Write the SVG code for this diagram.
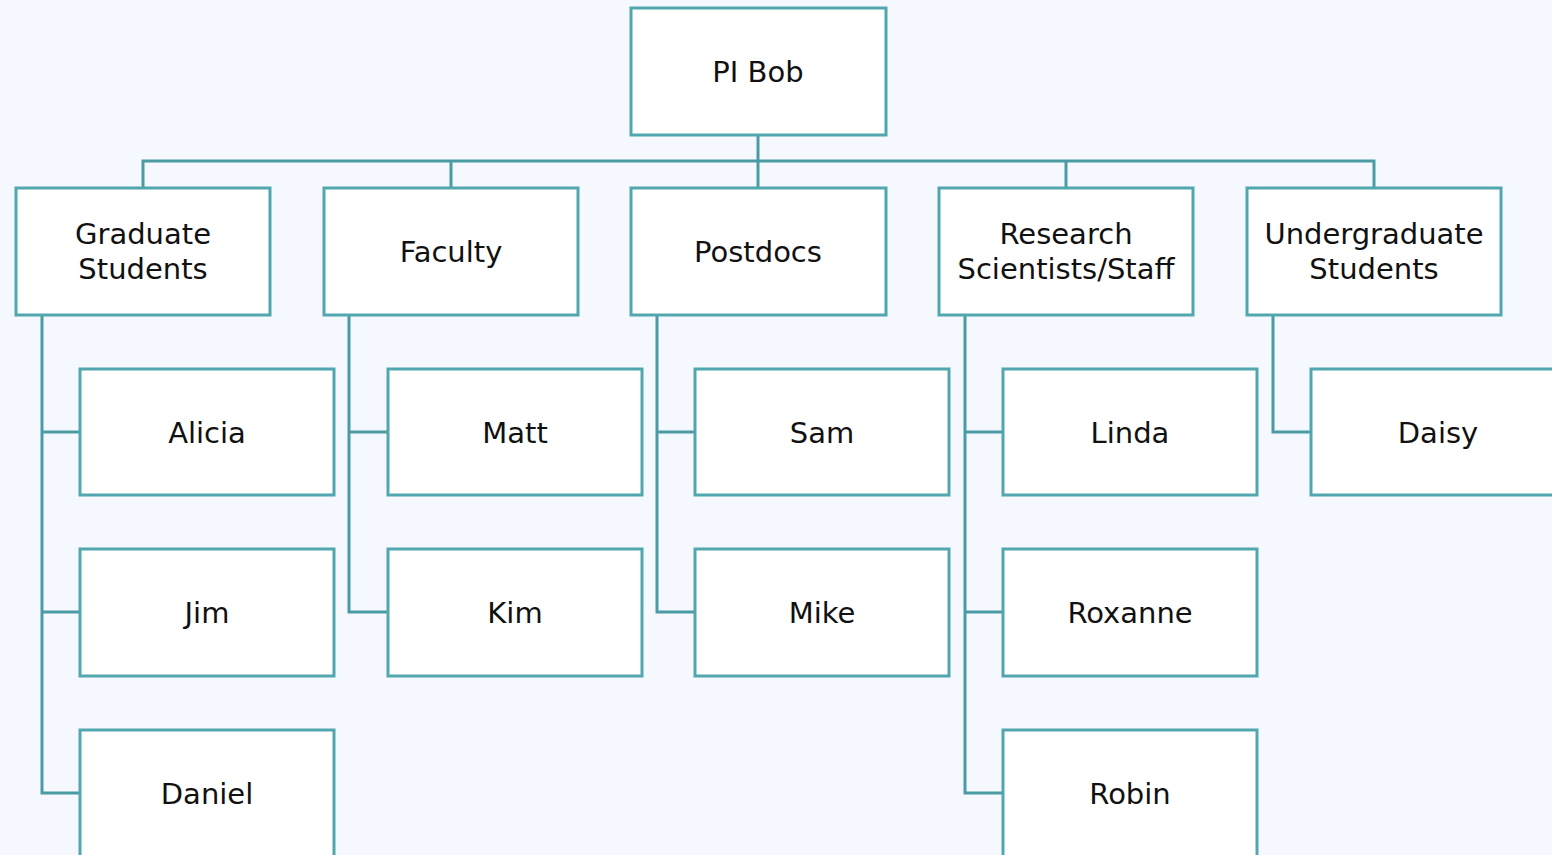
<svg xmlns="http://www.w3.org/2000/svg" width="1552" height="855" viewBox="0 0 1552 855">
<style>
.bx{fill:#ffffff;stroke:#52a6ae;stroke-width:3}
.cn{fill:none;stroke:#4a9ba3;stroke-width:3}
.t{font-family:"DejaVu Sans","Liberation Sans",sans-serif;font-size:29px;fill:#111111;text-anchor:middle}
</style>
<rect width="1552" height="855" fill="#f5f8fe"/>
<g id="connectors">
<path class="cn" d="M758 135V188M143 188V161H1374V188M451 161V188M1066 161V188"/>
<path class="cn" d="M42 315V793H80M42 432H80M42 612H80"/>
<path class="cn" d="M349 315V612H388M349 432H388"/>
<path class="cn" d="M657 315V612H695M657 432H695"/>
<path class="cn" d="M965 315V793H1003M965 432H1003M965 612H1003"/>
<path class="cn" d="M1273 315V432H1311"/>
</g>
<g id="pi-bob"><rect class="bx" x="631" y="8" width="255" height="127"/><text class="t" x="758" y="82">PI Bob</text></g>
<g id="graduate-students"><rect class="bx" x="16" y="188" width="254" height="127"/><text class="t" x="143" y="244">Graduate</text><text class="t" x="143" y="279">Students</text></g>
<g id="faculty"><rect class="bx" x="324" y="188" width="254" height="127"/><text class="t" x="451" y="262">Faculty</text></g>
<g id="postdocs"><rect class="bx" x="631" y="188" width="255" height="127"/><text class="t" x="758" y="262">Postdocs</text></g>
<g id="research-scientists"><rect class="bx" x="939" y="188" width="254" height="127"/><text class="t" x="1066" y="244">Research</text><text class="t" x="1066" y="279">Scientists/Staff</text></g>
<g id="undergraduate-students"><rect class="bx" x="1247" y="188" width="254" height="127"/><text class="t" x="1374" y="244">Undergraduate</text><text class="t" x="1374" y="279">Students</text></g>
<g id="alicia"><rect class="bx" x="80" y="369" width="254" height="126"/><text class="t" x="207" y="443">Alicia</text></g>
<g id="jim"><rect class="bx" x="80" y="549" width="254" height="127"/><text class="t" x="207" y="623">Jim</text></g>
<g id="daniel"><rect class="bx" x="80" y="730" width="254" height="127"/><text class="t" x="207" y="804">Daniel</text></g>
<g id="matt"><rect class="bx" x="388" y="369" width="254" height="126"/><text class="t" x="515" y="443">Matt</text></g>
<g id="kim"><rect class="bx" x="388" y="549" width="254" height="127"/><text class="t" x="515" y="623">Kim</text></g>
<g id="sam"><rect class="bx" x="695" y="369" width="254" height="126"/><text class="t" x="822" y="443">Sam</text></g>
<g id="mike"><rect class="bx" x="695" y="549" width="254" height="127"/><text class="t" x="822" y="623">Mike</text></g>
<g id="linda"><rect class="bx" x="1003" y="369" width="254" height="126"/><text class="t" x="1130" y="443">Linda</text></g>
<g id="roxanne"><rect class="bx" x="1003" y="549" width="254" height="127"/><text class="t" x="1130" y="623">Roxanne</text></g>
<g id="robin"><rect class="bx" x="1003" y="730" width="254" height="127"/><text class="t" x="1130" y="804">Robin</text></g>
<g id="daisy"><rect class="bx" x="1311" y="369" width="254" height="126"/><text class="t" x="1438" y="443">Daisy</text></g>
</svg>
